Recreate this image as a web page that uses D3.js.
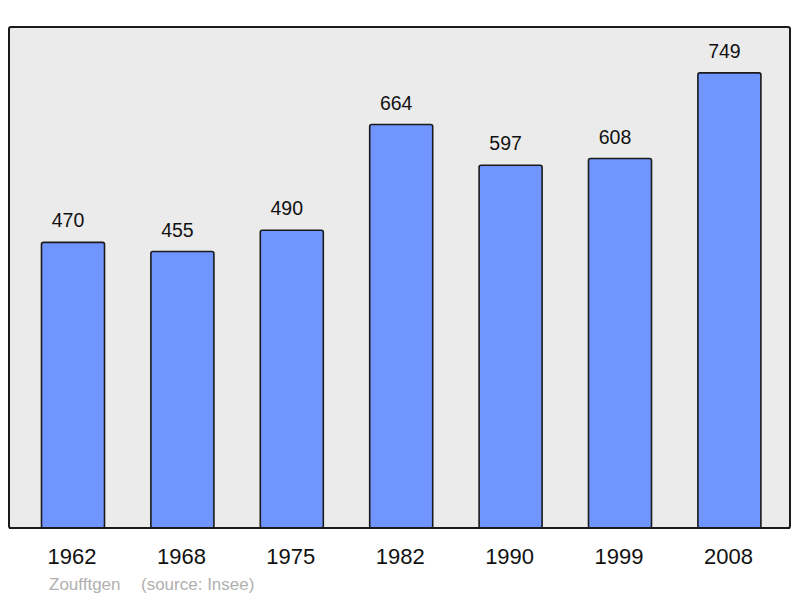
<!DOCTYPE html>
<html>
<head>
<meta charset="utf-8">
<script src="https://cdn.jsdelivr.net/npm/d3@7"></script>
<style>
  body { margin: 0; background: #fff; }
  text { font-family: 'Liberation Sans', Arial, sans-serif; }
</style>
</head>
<body>
<div id="chart"></div>
<script>
// population by census year
var years = ['1962', '1968', '1975', '1982', '1990', '1999', '2008'];
var population = [470, 455, 490, 664, 597, 608, 749];
var commune = 'Zoufftgen';
var source = '(source: Insee)';

var width = 800, height = 598;
var frame = {left: 9, top: 27, right: 790, bottom: 528};

var svg = d3.select('#chart')
  .append('svg')
  .attr('width', width)
  .attr('height', height);

var x = d3.scaleBand()
  .domain(years)
  .range([18.3, 784.1])
  .paddingInner(0.424)
  .paddingOuter(0.212);

var y = d3.scaleLinear()
  .domain([0, 824.5])
  .range([frame.bottom, frame.top]);

// background frame
svg.append('rect')
  .attr('x', frame.left)
  .attr('y', frame.top)
  .attr('width', frame.right - frame.left)
  .attr('height', frame.bottom - frame.top)
  .attr('rx', 2)
  .attr('fill', '#ebebeb')
  .attr('stroke', '#1a1a1a')
  .attr('stroke-width', 2);

var data = years.map(function(d, i) {
  return {year: d, value: population[i]};
});

svg.selectAll('.bar')
  .data(data).enter()
  .append('rect')
  .attr('class', 'bar')
  .attr('x', function(d) { return x(d.year); })
  .attr('y', function(d) { return y(d.value); })
  .attr('width', x.bandwidth())
  .attr('height', function(d) { return y(0) - y(d.value); })
  .attr('rx', 2)
  .attr('fill', '#7095ff')
  .attr('stroke', '#1a1a1a')
  .attr('stroke-width', 1.6);

// redraw frame bottom on top of bars
svg.append('line')
  .attr('x1', frame.left)
  .attr('x2', frame.right)
  .attr('y1', frame.bottom)
  .attr('y2', frame.bottom)
  .attr('stroke', '#1a1a1a')
  .attr('stroke-width', 2);

svg.selectAll('.value')
  .data(data).enter()
  .append('text')
  .attr('class', 'value')
  .attr('x', function(d) { return x(d.year) + x.bandwidth() / 2 - 5; })
  .attr('y', function(d) { return y(d.value) - 15; })
  .attr('text-anchor', 'middle')
  .attr('font-size', 19.5)
  .attr('fill', '#111')
  .text(function(d) { return d.value; });

var xAxis = d3.axisBottom(x).tickSize(0).tickPadding(0);
var gx = svg.append('g')
  .attr('transform', 'translate(0,' + frame.bottom + ')')
  .call(xAxis);
gx.select('.domain').remove();
gx.selectAll('text')
  .attr('dy', null)
  .attr('x', -1)
  .attr('y', 36)
  .attr('font-size', 22)
  .attr('font-family', "'Liberation Sans', Arial, sans-serif")
  .attr('fill', '#111');

svg.append('text')
  .attr('x', 49)
  .attr('y', 590)
  .attr('font-size', 17)
  .attr('fill', '#b0b0b0')
  .text(commune);

svg.append('text')
  .attr('x', 141)
  .attr('y', 590)
  .attr('font-size', 17)
  .attr('fill', '#b0b0b0')
  .text(source);
</script>
</body>
</html>
